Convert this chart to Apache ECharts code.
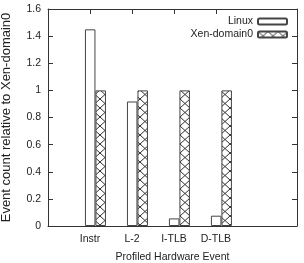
<!DOCTYPE html>
<html>
<head>
<meta charset="utf-8">
<script src="https://cdn.jsdelivr.net/npm/echarts@6/dist/echarts.min.js"></script>
<style>
  html, body { margin: 0; padding: 0; background: #fff; }
  #chart { width: 304px; height: 263px; }
</style>
</head>
<body>
<div id="chart"></div>
<script>
var categories = ["Instr", "L-2", "I-TLB", "D-TLB"];
var linuxValues = [1.45, 0.918, 0.056, 0.076];
var xenValues = [1, 1, 1, 1];
var yTicks = [0, 0.2, 0.4, 0.6, 0.8, 1, 1.2, 1.4, 1.6];

var axisColor = "#333";
var font = "Liberation Sans";
var tickShift = -0.13; // gnuplot puts the tic slightly left of the bar pair

// crosshatch fill for the Xen bars
function makeHatch() {
  var c = document.createElement("canvas");
  c.width = 10;
  c.height = 9;
  var ctx = c.getContext("2d");
  ctx.fillStyle = "#fff";
  ctx.fillRect(0, 0, 10, 9);
  ctx.strokeStyle = "#333";
  ctx.lineWidth = 1;
  ctx.beginPath();
  ctx.moveTo(0, 0);
  ctx.lineTo(10, 9);
  ctx.moveTo(10, 0);
  ctx.lineTo(0, 9);
  ctx.stroke();
  return c;
}

var tickPos = categories.map(function (c, i) { return i + tickShift; });
function pairs(vals) {
  return vals.map(function (v, i) { return [i, v]; });
}

var chart = echarts.init(document.getElementById("chart"));
chart.setOption({
  animation: false,
  grid: { left: 48, right: 7, top: 9, bottom: 37, containLabel: false, outerBoundsMode: "none" },
  legend: {
    orient: "vertical",
    right: 16,
    top: 16,
    padding: 0,
    itemGap: 2,
    itemWidth: 29,
    itemHeight: 6,
    align: "right",
    textStyle: { fontFamily: font, fontSize: 10.5, color: "#222" },
    data: ["Linux", "Xen-domain0"]
  },
  xAxis: [
    {
      type: "value",
      min: -1.13,
      max: 4.8,
      name: "Profiled Hardware Event",
      nameLocation: "middle",
      nameGap: 26,
      nameTextStyle: { fontFamily: font, fontSize: 10.5, color: "#222" },
      axisLine: { onZero: false, lineStyle: { color: axisColor, width: 1 } },
      axisTick: { inside: true, length: 5, customValues: tickPos, lineStyle: { color: axisColor } },
      axisLabel: {
        customValues: tickPos,
        margin: 8,
        fontFamily: font,
        fontSize: 10.5,
        color: "#222",
        formatter: function (v) { return categories[Math.round(v)]; }
      },
      splitLine: { show: false }
    },
    {
      type: "value",
      position: "top",
      min: -1.13,
      max: 4.8,
      axisLine: { onZero: false, lineStyle: { color: axisColor, width: 1 } },
      axisTick: { inside: true, length: 5, customValues: tickPos, lineStyle: { color: axisColor } },
      axisLabel: { show: false },
      splitLine: { show: false }
    }
  ],
  yAxis: [
    {
      type: "value",
      min: 0,
      max: 1.6,
      interval: 0.2,
      name: "Event count relative to Xen-domain0",
      nameLocation: "middle",
      nameGap: 35,
      nameTextStyle: { fontFamily: font, fontSize: 13, color: "#222" },
      axisLine: { show: true, onZero: false, lineStyle: { color: axisColor, width: 1 } },
      axisTick: { show: true, inside: true, length: 5, lineStyle: { color: axisColor } },
      axisLabel: {
        margin: 7,
        fontFamily: font,
        fontSize: 10.5,
        color: "#222",
        customValues: yTicks
      },
      splitLine: { show: false }
    },
    {
      type: "value",
      position: "right",
      min: 0,
      max: 1.6,
      interval: 0.2,
      axisLine: { show: true, onZero: false, lineStyle: { color: axisColor, width: 1 } },
      axisTick: { show: true, inside: true, length: 5, lineStyle: { color: axisColor } },
      axisLabel: { show: false },
      splitLine: { show: false }
    }
  ],
  series: [
    {
      name: "Linux",
      type: "bar",
      xAxisIndex: 0,
      yAxisIndex: 0,
      barWidth: 10.5,
      barGap: "0%",
      itemStyle: { color: "#fff", borderColor: "#444", borderWidth: 1 },
      data: pairs(linuxValues)
    },
    {
      name: "Xen-domain0",
      type: "bar",
      xAxisIndex: 0,
      yAxisIndex: 0,
      barWidth: 10.5,
      barGap: "0%",
      itemStyle: {
        color: { image: makeHatch(), repeat: "repeat" },
        borderColor: "#444",
        borderWidth: 1
      },
      data: pairs(xenValues)
    }
  ]
});
</script>
</body>
</html>
